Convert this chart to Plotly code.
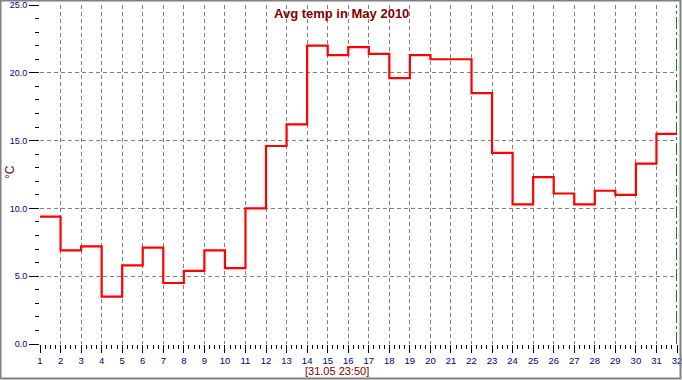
import plotly.graph_objects as go

days = list(range(1, 33))
temps = [9.4, 6.9, 7.2, 3.5, 5.8, 7.1, 4.5, 5.4, 6.9, 5.6,
         10.0, 14.6, 16.2, 22.0, 21.3, 21.9, 21.4, 19.6, 21.3, 21.0,
         21.0, 18.5, 14.1, 10.3, 12.3, 11.1, 10.3, 11.3, 11.0, 13.3,
         15.5]
temps_step = temps + [temps[-1]]
title_text = "Avg temp in May 2010"
time_text = "[31.05 23:50]"
y_title = "°C"
now_day = 32

W, H = 682, 380
ML, MR, MT, MB = 40, 5, 5, 36
PW, PH = W - ML - MR, H - MT - MB

def px2paper_x(px):
    return (px - ML) / PW

def px2paper_y(py):
    return (H - MB - py) / PH

dark_red = "#800000"
navy = "#000080"
grid_col = "#808080"
font_fam = "Liberation Sans, Arial, sans-serif"

fig = go.Figure()
fig.add_trace(go.Scatter(
    x=days, y=temps_step, mode="lines",
    line=dict(color="#FF0000", width=2.2, shape="hv"),
    hoverinfo="skip", showlegend=False,
))

fig.add_shape(type="line", xref="x", yref="y", x0=now_day, x1=now_day, y0=0, y1=25,
              line=dict(color="#007000", width=1.8, dash="12px,3px,3px,3px"))

# outer frame
fig.add_shape(type="rect", xref="paper", yref="paper",
              x0=px2paper_x(0.5), x1=px2paper_x(W - 1.5),
              y0=px2paper_y(H - 1.5), y1=px2paper_y(0.5),
              line=dict(color="#808080", width=2), layer="above")

fig.add_annotation(text="<b>" + title_text + "</b>", xref="paper", yref="paper",
                   x=px2paper_x(341), y=px2paper_y(13), showarrow=False,
                   xanchor="center", yanchor="middle",
                   font=dict(family=font_fam, size=13, color=dark_red))
fig.add_annotation(text=time_text, xref="paper", yref="paper",
                   x=px2paper_x(337), y=px2paper_y(370.5), showarrow=False,
                   xanchor="center", yanchor="middle",
                   font=dict(family=font_fam, size=11, color=dark_red))
fig.add_annotation(text=y_title, xref="paper", yref="paper",
                   x=px2paper_x(10), y=px2paper_y(172), showarrow=False,
                   textangle=-90, xanchor="center", yanchor="middle",
                   font=dict(family=font_fam, size=12, color=dark_red))

fig.update_layout(
    width=W, height=H,
    margin=dict(l=ML, r=MR, t=MT, b=MB, pad=0, autoexpand=False),
    paper_bgcolor="white", plot_bgcolor="white",
    showlegend=False,
    xaxis=dict(
        range=[1, 32], tickmode="linear", tick0=1, dtick=1,
        ticks="outside", ticklen=8, tickwidth=1, tickcolor="black",
        showgrid=True, gridcolor=grid_col, gridwidth=1, griddash="4px,3px",
        zeroline=False, showline=False, automargin=False,
        ticklabeloverflow="allow",
        tickfont=dict(family=font_fam, size=9.5, color=navy),
        minor=dict(dtick=0.25, tick0=1, ticks="outside", ticklen=4,
                   tickcolor="black", tickwidth=1, showgrid=False),
        fixedrange=True,
    ),
    yaxis=dict(
        range=[0, 25], tickmode="linear", tick0=0, dtick=5,
        tickformat=".1f",
        ticks="outside", ticklen=10, tickwidth=1, tickcolor="black",
        showgrid=True, gridcolor=grid_col, gridwidth=1, griddash="4px,3px",
        zeroline=False, showline=False, automargin=False,
        ticklabeloverflow="allow",
        tickfont=dict(family=font_fam, size=9, color=navy),
        minor=dict(dtick=1, tick0=0, ticks="outside", ticklen=4,
                   tickcolor="black", tickwidth=1, showgrid=False),
        fixedrange=True,
    ),
)

fig.write_html("out.html", config={"displayModeBar": False},
               post_script="document.body.style.margin='0';document.body.style.padding='0';")
